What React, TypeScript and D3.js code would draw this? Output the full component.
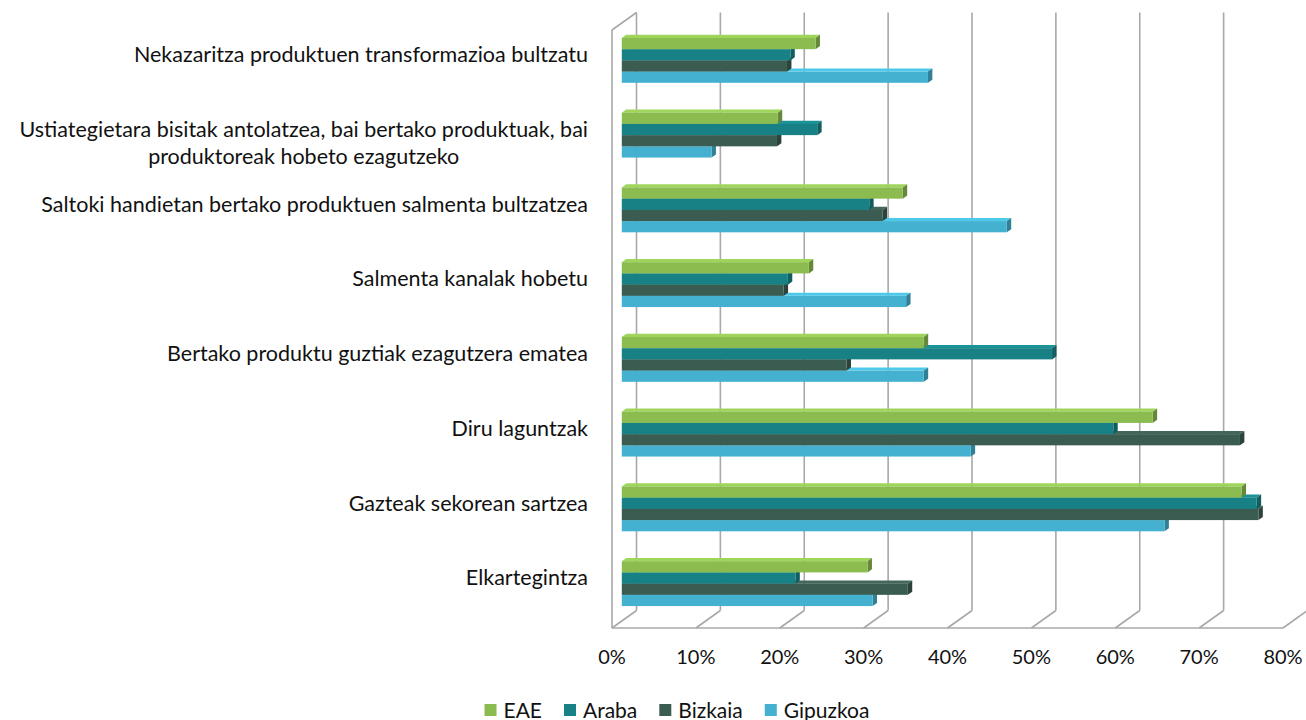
import React, { useEffect, useRef } from 'react';
import * as d3 from 'd3';

// categories top to bottom
const categories = [
  'Nekazaritza produktuen transformazioa bultzatu',
  'Ustiategietara bisitak antolatzea, bai bertako produktuak, bai|produktoreak hobeto ezagutzeko',
  'Saltoki handietan bertako produktuen salmenta bultzatzea',
  'Salmenta kanalak hobetu',
  'Bertako produktu guztiak ezagutzera ematea',
  'Diru laguntzak',
  'Gazteak sekorean sartzea',
  'Elkartegintza',
];

const seriesNames = ['EAE', 'Araba', 'Bizkaia', 'Gipuzkoa'];
const eae = [23.1, 18.6, 33.5, 22.3, 36.0, 63.3, 73.9, 29.3];
const araba = [20.1, 23.3, 29.5, 19.8, 51.3, 58.6, 75.7, 20.7];
const bizkaia = [19.7, 18.5, 31.1, 19.3, 26.8, 73.7, 75.9, 34.1];
const gipuzkoa = [36.5, 10.7, 45.9, 33.9, 36.0, 41.6, 64.7, 29.9];
const seriesValues = [eae, araba, bizkaia, gipuzkoa];
const colors = ['#8cbc50', '#188186', '#3b5c50', '#43b1cf'];
const tickValues = [0, 10, 20, 30, 40, 50, 60, 70, 80];

const W = 1306;
const H = 720;
const FONT = 'Lato, "Open Sans", sans-serif';

export default function App() {
  const ref = useRef<SVGSVGElement>(null);

  useEffect(() => {
    const svg = d3.select(ref.current);
    svg.selectAll('*').remove();

    const plotTop = 30;
    const plotBottom = 628;
    const DX = 24.5;
    const DY = -17.5;

    const x = d3.scaleLinear().domain([0, 80]).range([612, 1283]);
    const y = d3.scaleBand<string>().domain(categories).range([plotTop, plotBottom]).paddingInner(0.4).paddingOuter(0.2);
    const ySub = d3.scaleBand<string>().domain(seriesNames).range([0, y.bandwidth()]);

    const P = (v: number, yy: number, z: number): [number, number] => [x(v) + z * DX, yy + z * DY];

    const grid = svg.append('g').attr('stroke', '#a8a8a8').attr('stroke-width', 1.6).attr('fill', 'none');
    // back wall grid + floor lines
    tickValues.forEach((t) => {
      const [xb, yt] = P(t, plotTop, 1);
      const [, yb] = P(t, plotBottom, 1);
      grid.append('line').attr('x1', xb).attr('x2', xb).attr('y1', yt).attr('y2', yb);
      grid.append('line').attr('x1', x(t)).attr('y1', plotBottom).attr('x2', xb).attr('y2', yb);
    });
    grid.append('line').attr('x1', x(0)).attr('x2', x(80)).attr('y1', plotBottom).attr('y2', plotBottom);
    // left wall
    grid.append('line').attr('x1', x(0)).attr('x2', x(0)).attr('y1', plotTop).attr('y2', plotBottom);
    const [lx, ly] = P(0, plotTop, 1);
    grid.append('line').attr('x1', x(0)).attr('y1', plotTop).attr('x2', lx).attr('y2', ly);

    // bars, bottom series first so upper bars cover the top faces below
    const z0 = 0.4;
    const z1 = 0.58;
    const bars = svg.append('g');
    categories.forEach((c, ci) => {
      for (let si = seriesNames.length - 1; si >= 0; si--) {
        const v = seriesValues[si][ci];
        const y0 = (y(c) as number) + (ySub(seriesNames[si]) as number);
        const y1 = y0 + ySub.bandwidth();
        const base = d3.color(colors[si]) as d3.RGBColor;
        const poly = (pts: [number, number][], fill: string) =>
          bars.append('polygon').attr('points', pts.map((p) => p.join(',')).join(' ')).attr('fill', fill);
        poly([P(0, y0, z0), P(v, y0, z0), P(v, y0, z1), P(0, y0, z1)], base.brighter(0.35).toString());
        poly([P(v, y0, z0), P(v, y0, z1), P(v, y1, z1), P(v, y1, z0)], base.darker(0.9).toString());
        const [fx0, fy0] = P(0, y0, z0);
        const [fx1, fy1] = P(v, y1, z0);
        bars.append('rect').attr('x', fx0).attr('y', fy0).attr('width', fx1 - fx0).attr('height', fy1 - fy0)
          .attr('fill', colors[si]);
      }
    });

    // x tick labels
    svg.append('g').selectAll('text').data(tickValues).join('text')
      .attr('x', (d) => x(d)).attr('y', 664)
      .attr('text-anchor', 'middle')
      .attr('font-family', FONT).attr('font-size', 20).attr('fill', '#111')
      .text((d) => `${d}%`);

    // category labels
    const labelRight = 588;
    const lineH = 27;
    categories.forEach((c) => {
      const lines = c.split('|');
      const cy = (y(c) as number) + y.bandwidth() / 2 + DY * 0.7;
      const g = svg.append('g');
      const texts = lines.map((l, i) => g.append('text')
        .attr('y', cy + i * lineH + 7)
        .attr('font-family', FONT).attr('font-size', 21.5).attr('fill', '#111')
        .attr('text-anchor', 'middle')
        .text(l));
      const maxW = d3.max(texts, (t) => (t.node() as SVGTextElement).getComputedTextLength()) as number;
      texts.forEach((t) => t.attr('x', labelRight - maxW / 2));
    });

    // legend
    const legend = svg.append('g');
    let cx = 0;
    seriesNames.forEach((n, i) => {
      const g = legend.append('g').attr('transform', `translate(${cx},0)`);
      g.append('rect').attr('x', 0).attr('y', -6).attr('width', 12).attr('height', 12).attr('fill', colors[i]);
      const t = g.append('text').attr('x', 19).attr('y', 7.5)
        .attr('font-family', FONT).attr('font-size', 21).attr('fill', '#111').text(n);
      const w = 19 + (t.node() as SVGTextElement).getComputedTextLength();
      cx += w + 22;
    });
    const total = cx - 22;
    legend.attr('transform', `translate(${677 - total / 2},710)`);
  }, []);

  return (
    <svg ref={ref} width={W} height={H} style={{ position: 'absolute', left: 0, top: 0, background: '#fff' }} />
  );
}
